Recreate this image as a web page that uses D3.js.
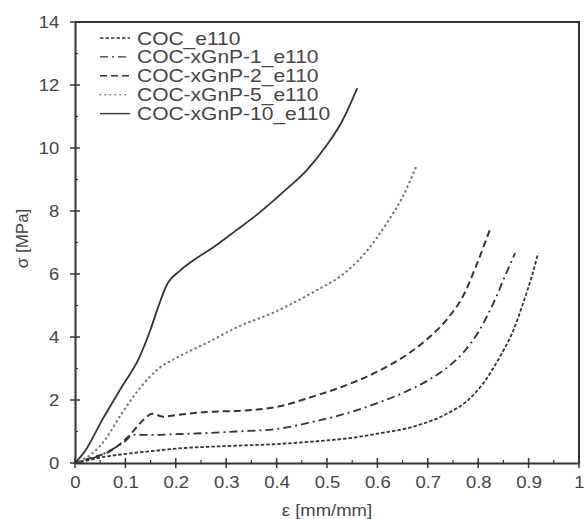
<!DOCTYPE html>
<html>
<head>
<meta charset="utf-8">
<script src="https://cdn.jsdelivr.net/npm/d3@7"></script>
<style>
  html, body { margin: 0; padding: 0; background: #fff; overflow: hidden; }
  svg { display: block; }
</style>
</head>
<body>
<div id="chart"></div>
<script>
// Series names (legend order)
const seriesNames = ['COC_e110', 'COC-xGnP-1_e110', 'COC-xGnP-2_e110', 'COC-xGnP-5_e110', 'COC-xGnP-10_e110'];

// strain [mm/mm], stress [MPa] pairs
const cocData = [[0,0],[0.03,0.1],[0.06,0.2],[0.1,0.29],[0.16,0.39],[0.21,0.47],[0.26,0.51],[0.32,0.55],[0.4,0.6],[0.47,0.68],[0.54,0.78],[0.6,0.93],[0.67,1.15],[0.74,1.58],[0.78,2.0],[0.81,2.53],[0.843,3.37],[0.87,4.22],[0.889,5.07],[0.906,5.91],[0.919,6.66]];
const gnp1Data = [[0,0],[0.03,0.12],[0.07,0.4],[0.1,0.7],[0.115,0.9],[0.153,0.89],[0.19,0.91],[0.26,0.95],[0.32,1.0],[0.4,1.08],[0.47,1.3],[0.54,1.58],[0.6,1.9],[0.65,2.22],[0.7,2.62],[0.74,3.05],[0.77,3.5],[0.8,4.15],[0.83,5.07],[0.855,6.0],[0.873,6.66]];
const gnp2Data = [[0,0],[0.03,0.15],[0.073,0.41],[0.106,0.84],[0.136,1.37],[0.153,1.56],[0.175,1.47],[0.2,1.52],[0.26,1.62],[0.33,1.66],[0.4,1.78],[0.47,2.1],[0.54,2.48],[0.6,2.9],[0.65,3.35],[0.7,3.95],[0.74,4.6],[0.77,5.3],[0.797,6.3],[0.823,7.4]];
const gnp5Data = [[0,0],[0.03,0.25],[0.054,0.62],[0.093,1.58],[0.126,2.32],[0.166,3.0],[0.2,3.33],[0.26,3.8],[0.32,4.3],[0.39,4.75],[0.47,5.4],[0.54,6.1],[0.58,6.75],[0.62,7.65],[0.65,8.45],[0.678,9.45]];
const gnp10Data = [[0,0],[0.02,0.38],[0.054,1.37],[0.093,2.42],[0.126,3.3],[0.149,4.2],[0.165,4.95],[0.182,5.65],[0.208,6.1],[0.241,6.5],[0.281,6.92],[0.321,7.4],[0.36,7.87],[0.42,8.7],[0.46,9.3],[0.5,10.1],[0.53,10.85],[0.56,11.9]];

// Tick values
const xTicks = [0, 0.1, 0.2, 0.3, 0.4, 0.5, 0.6, 0.7, 0.8, 0.9, 1];
const xMinorTicks = [0.05, 0.15, 0.25, 0.35, 0.45, 0.55, 0.65, 0.75, 0.85, 0.95];
const yTicks = [0, 2, 4, 6, 8, 10, 12, 14];
const yMinorTicks = [1, 3, 5, 7, 9, 11, 13];

// Line styles per series
const styles = [
  { dash: '3.5,2', color: '#333', width: 1.8, cap: 'butt' },
  { dash: '8,4,2,4', color: '#333', width: 1.8, cap: 'butt' },
  { dash: '7,4', color: '#333', width: 2, cap: 'butt' },
  { dash: '0.5,4.5', color: '#777', width: 2.2, cap: 'round' },
  { dash: null, color: '#333', width: 1.8, cap: 'butt' }
];

const allData = [cocData, gnp1Data, gnp2Data, gnp5Data, gnp10Data];

const width = 585, height = 519;
const margin = { left: 75, right: 6, top: 22, bottom: 56 };
const stretch = 1.12; // the reference text is horizontally stretched

const svg = d3.select('#chart').append('svg')
  .attr('width', width)
  .attr('height', height);

const x = d3.scaleLinear().domain([0, 1]).range([margin.left, width - margin.right]);
const y = d3.scaleLinear().domain([0, 14]).range([height - margin.bottom, margin.top]);

const axisColor = '#333';
const textColor = '#444';
const font = "Liberation Sans, Arial, sans-serif";

// Curves
const line = d3.line()
  .x(d => x(d[0]))
  .y(d => y(d[1]))
  .curve(d3.curveMonotoneX);

svg.append('g')
  .selectAll('path')
  .data(allData)
  .join('path')
  .attr('d', line)
  .attr('fill', 'none')
  .attr('stroke', (d, i) => styles[i].color)
  .attr('stroke-width', (d, i) => styles[i].width)
  .attr('stroke-dasharray', (d, i) => styles[i].dash)
  .attr('stroke-linecap', (d, i) => styles[i].cap);

// Box (top and right)
svg.append('path')
  .attr('d', `M${x(0)},${y(14)}H${x(1)}V${y(0)}`)
  .attr('fill', 'none')
  .attr('stroke', axisColor)
  .attr('stroke-width', 2);

// X axis
const xAxis = svg.append('g')
  .attr('transform', `translate(0,${y(0)})`)
  .call(d3.axisBottom(x).tickValues(xTicks).tickSize(0).tickPadding(13).tickFormat(d3.format('')));
xAxis.select('.domain').attr('stroke', axisColor).attr('stroke-width', 2);
xAxis.selectAll('.tick text')
  .attr('fill', textColor)
  .attr('transform', `scale(${stretch},1)`)
  .style('font-family', font)
  .style('font-size', '16.5px');

svg.append('g').selectAll('line')
  .data(xTicks)
  .join('line')
  .attr('x1', d => x(d)).attr('x2', d => x(d))
  .attr('y1', y(0) - 5).attr('y2', y(0) + 5)
  .attr('stroke', axisColor).attr('stroke-width', 1.5);
svg.append('g').selectAll('line')
  .data(xMinorTicks)
  .join('line')
  .attr('x1', d => x(d)).attr('x2', d => x(d))
  .attr('y1', y(0) - 3).attr('y2', y(0))
  .attr('stroke', axisColor).attr('stroke-width', 1.2);

// Y axis
const yAxis = svg.append('g')
  .attr('transform', `translate(${x(0)},0)`)
  .call(d3.axisLeft(y).tickValues(yTicks).tickSize(0).tickPadding(14));
yAxis.select('.domain').attr('stroke', axisColor).attr('stroke-width', 2);
yAxis.selectAll('.tick text')
  .attr('fill', textColor)
  .attr('transform', `scale(${stretch},1)`)
  .style('font-family', font)
  .style('font-size', '16.5px');

svg.append('g').selectAll('line')
  .data(yTicks)
  .join('line')
  .attr('x1', x(0) - 5).attr('x2', x(0) + 5)
  .attr('y1', d => y(d)).attr('y2', d => y(d))
  .attr('stroke', axisColor).attr('stroke-width', 1.5);
svg.append('g').selectAll('line')
  .data(yMinorTicks)
  .join('line')
  .attr('x1', x(0)).attr('x2', x(0) + 3)
  .attr('y1', d => y(d)).attr('y2', d => y(d))
  .attr('stroke', axisColor).attr('stroke-width', 1.2);

// Axis titles
svg.append('g')
  .attr('transform', `translate(${x(0.5)},516) scale(${stretch},1)`)
  .append('text')
  .attr('text-anchor', 'middle')
  .attr('fill', textColor)
  .style('font-family', font)
  .style('font-size', '16.5px')
  .text('ε [mm/mm]');

svg.append('text')
  .attr('transform', `translate(28,${(y(0) + y(14)) / 2 - 4}) rotate(-90)`)
  .attr('text-anchor', 'middle')
  .attr('fill', textColor)
  .style('font-family', font)
  .style('font-size', '17px')
  .text('σ [MPa]');

// Legend
const legend = svg.append('g')
  .selectAll('g')
  .data(seriesNames)
  .join('g')
  .attr('transform', (d, i) => `translate(100,${38 + i * 18.9})`);

legend.append('line')
  .attr('x1', 0).attr('x2', 30)
  .attr('stroke', (d, i) => styles[i].color)
  .attr('stroke-width', (d, i) => styles[i].width * 0.75)
  .attr('stroke-dasharray', (d, i) => styles[i].dash)
  .attr('stroke-linecap', (d, i) => styles[i].cap);

legend.append('g')
  .attr('transform', `translate(37,6.5) scale(1.2,1)`)
  .append('text')
  .attr('fill', textColor)
  .style('font-family', font)
  .style('font-size', '17.5px')
  .text(d => d);
</script>
</body>
</html>
